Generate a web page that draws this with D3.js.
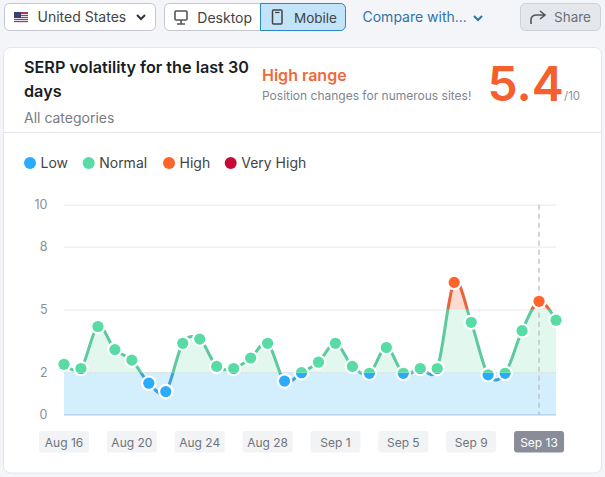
<!DOCTYPE html>
<html><head><meta charset="utf-8">
<script src="https://cdn.jsdelivr.net/npm/d3@7"></script>
<style>html,body{margin:0;padding:0;background:#f3f5f9;overflow:hidden}svg{display:block}text{font-family:Inter,"Noto Sans",sans-serif}</style>
</head><body><svg id="c" width="605" height="477"></svg>
<script>
const dates=["Aug 16","Aug 17","Aug 18","Aug 19","Aug 20","Aug 21","Aug 22","Aug 23","Aug 24","Aug 25","Aug 26","Aug 27","Aug 28","Aug 29","Aug 30","Aug 31","Sep 1","Sep 2","Sep 3","Sep 4","Sep 5","Sep 6","Sep 7","Sep 8","Sep 9","Sep 10","Sep 11","Sep 12","Sep 13","Sep 14"];
const values=[2.4,2.2,4.2,3.1,2.6,1.5,1.1,3.4,3.6,2.3,2.2,2.7,3.4,1.6,2.0,2.5,3.4,2.3,1.97,3.2,1.97,2.2,2.2,6.3,4.4,1.9,1.97,4.0,5.4,4.5];
const yTicks=[0,2,5,8,10];
const xTickLabels=["Aug 16","Aug 20","Aug 24","Aug 28","Sep 1","Sep 5","Sep 9","Sep 13"];
const activeDate="Sep 13";
const bandNames=["Low","Normal","High","Very High"];
const bandLimits=[0,2,5,8,10];
const bandColors=["#2bacfb","#59dba5","#ff642d","#c70a35"];
const lineColors=["#3f9fe0","#5cc9a0","#e8623a","#c70a35"];
const bandFills=["#d3effe","#e2f7ee","#fddcd0","#f8d0d8"];
const legendX=[24.5,83.2,163.5,225.2];

const svg=d3.select("#c");
const T=(x,y,s,o={})=>svg.append("text").attr("x",x).attr("y",y).text(s)
  .attr("font-size",o.size||13).attr("fill",o.fill||"#333").attr("font-weight",o.w||400).attr("text-anchor",o.a||"start");
const R=(x,y,w,h,r,f,st)=>svg.append("rect").attr("x",x).attr("y",y).attr("width",w).attr("height",h).attr("rx",r).attr("fill",f).attr("stroke",st||"none");

// toolbar
R(4.5,3.5,151,27,5,"#fff","#c4c7cf");
const flag=svg.append("g");
flag.append("rect").attr("x",14).attr("y",12).attr("width",14).attr("height",11).attr("fill","#a83c50");
[14,16,18,20,22].forEach(y=>flag.append("rect").attr("x",14).attr("y",y).attr("width",14).attr("height",1).attr("fill","#e8dfe4"));
flag.append("rect").attr("x",14).attr("y",12).attr("width",7).attr("height",6).attr("fill","#3b3f78");
T(37.5,22,"United States",{size:14,fill:"#444"});
const chev=(x,y,c,w)=>svg.append("path").attr("d",`M${x-4},${y-2}L${x},${y+2}L${x+4},${y-2}`).attr("fill","none").attr("stroke",c).attr("stroke-width",w||2);
chev(141,17,"#333");
R(164.5,3.5,181,27,5,"#fff","#c4c7cf");
svg.append("path").attr("d","M260.5,3.5H340.5a5,5 0 0 1 5,5V25.5a5,5 0 0 1 -5,5H260.5Z").attr("fill","#c3e3f9").attr("stroke","#2b88c6");
svg.append("rect").attr("x",175).attr("y",11).attr("width",12).attr("height",9).attr("rx",1).attr("fill","none").attr("stroke","#555").attr("stroke-width",1.6);
svg.append("path").attr("d","M177,24H185M181,20V24").attr("stroke","#555").attr("stroke-width",1.6);
T(197.3,23,"Desktop",{size:14,fill:"#444"});
svg.append("rect").attr("x",272.5).attr("y",10).attr("width",9.5).attr("height",14).attr("rx",1).attr("fill","none").attr("stroke","#444").attr("stroke-width",1.5);
svg.append("path").attr("d","M275,12.5H279.5").attr("stroke","#444").attr("stroke-width",1.2);
T(294,23,"Mobile",{size:13.5,fill:"#444"});
T(362.5,22,"Compare with...",{size:14,fill:"#2f73ac"});
chev(478,18,"#2f73ac");
R(520.5,3.5,80,27,5,"#e4e7ec","#cdd1d8");
svg.append("path").attr("d","M531,24V20Q531,15 537,15H544M540,11L545,15L540,19").attr("fill","none").attr("stroke","#555").attr("stroke-width",1.6);
T(554,22,"Share",{size:13.5,fill:"#6a6f78"});

// card
R(3.5,47.5,598,425.5,7,"#fff","#e4e6ea");
svg.append("line").attr("x1",4).attr("x2",601).attr("y1",132.5).attr("y2",132.5).attr("stroke","#e4e6ea");
T(24,73,"SERP volatility for the last 30",{size:16.2,w:600,fill:"#181e26"});
T(24,97,"days",{size:16.2,w:600,fill:"#181e26"});
T(24,123,"All categories",{size:14,fill:"#777c85"});
T(262,81,"High range",{size:16,w:600,fill:"#f0693a"});
T(262,100,"Position changes for numerous sites!",{size:12,fill:"#80858e"});
T(487.5,101,"5.4",{size:48,w:600,fill:"#f4602d"});
T(564,100,"/10",{size:11.5,fill:"#8d929a"});

// legend
bandNames.forEach((n,i)=>{
  svg.append("circle").attr("cx",legendX[i]+5.5).attr("cy",163).attr("r",6).attr("fill",bandColors[i]);
  T(legendX[i]+16,168,n,{size:14,fill:"#444"});
});

// scales
const x=d3.scalePoint().domain(dates).range([64,556]);
const y=d3.scaleLinear().domain([0,10]).range([414.7,204.7]);
const curve=d3.curveCardinal.tension(0);

// grid
const axis=d3.axisLeft(y).tickValues(yTicks).tickSize(-(556-64)).tickPadding(8);
const gy=svg.append("g").attr("transform","translate(64,0)").call(axis);
gy.select(".domain").remove();
gy.selectAll(".tick line").attr("stroke","#edeef1").attr("stroke-width",1.3);
gy.selectAll(".tick text").attr("x",-16.5).attr("fill","#8a8f97").attr("font-size",12.5);

const defs=svg.append("defs");
bandFills.forEach((f,i)=>{
  defs.append("clipPath").attr("id","b"+i).append("rect")
    .attr("x",0).attr("width",605).attr("y",y(bandLimits[i+1])).attr("height",y(bandLimits[i])-y(bandLimits[i+1]));
});
const area=d3.area().x(d=>x(d.d)).y0(y(0)).y1(d=>y(d.v)).curve(curve);
const line=d3.line().x(d=>x(d.d)).y(d=>y(d.v)).curve(curve);
const pts=dates.map((d,i)=>({d,v:values[i]}));

// flat low band under everything
svg.append("rect").attr("x",64).attr("width",492).attr("y",y(2)).attr("height",y(0)-y(2)).attr("fill",bandFills[0]);
[1,2,3].forEach(i=>svg.append("path").attr("d",area(pts)).attr("fill",bandFills[i]).attr("clip-path",`url(#b${i})`));
svg.append("line").attr("x1",64).attr("x2",556).attr("y1",y(0)).attr("y2",y(0)).attr("stroke","#bcd6ee").attr("stroke-width",1.5);
svg.append("line").attr("x1",64).attr("x2",556).attr("y1",y(2)).attr("y2",y(2)).attr("stroke","#d6e6e6").attr("stroke-width",1);

// crosshair
svg.append("line").attr("x1",x(activeDate)).attr("x2",x(activeDate)).attr("y1",y(10)).attr("y2",y(0))
  .attr("stroke","#b9bcc2").attr("stroke-width",1.3).attr("stroke-dasharray","5 4");

// line by band
lineColors.forEach((c,i)=>svg.append("path").attr("d",line(pts)).attr("fill","none").attr("stroke",c).attr("stroke-width",3).attr("clip-path",`url(#b${i})`));

// points: white halo, then one fill per band clipped at the thresholds
svg.selectAll("circle.h").data(pts).join("circle").attr("class","h")
  .attr("cx",d=>x(d.d)).attr("cy",d=>y(d.v)).attr("r",7.8).attr("fill","#fff");
bandColors.forEach((c,i)=>{
  const g=svg.append("g").attr("clip-path",`url(#b${i})`);
  g.selectAll("circle").data(pts).join("circle")
    .attr("cx",d=>x(d.d)).attr("cy",d=>y(d.v)).attr("r",5.6).attr("fill",c);
});

// x labels
xTickLabels.forEach(l=>{
  const a=l===activeDate, cx=x(l);
  R(cx-25,431,50,21.5,3,a?"#888d99":"#f2f3f5");
  T(cx,446.5,l,{size:12,a:"middle",fill:a?"#fff":"#6f747c"});
});
</script></body></html>
